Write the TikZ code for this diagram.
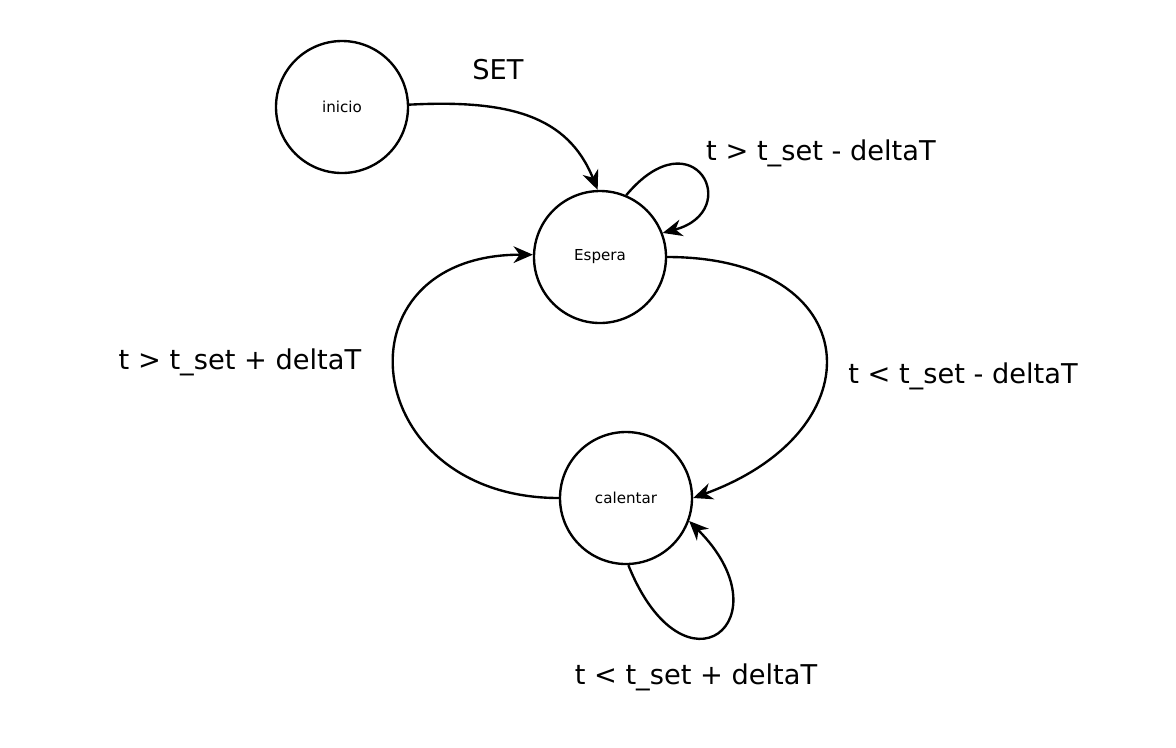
\documentclass[tikz,border=0pt]{standalone}
\usepackage{fontspec}
\setmainfont{DejaVu Sans}
\usetikzlibrary{arrows.meta}

\begin{document}
\begin{tikzpicture}[
    estado/.style={draw, circle, line width=1.35pt, minimum size=2.64cm, inner sep=0pt,
        font=\fontsize{8.6}{10}\selectfont},
    trans/.style={line width=1.35pt, -{Stealth[length=11pt,width=9.5pt,inset=3.5pt]}},
    etiqueta/.style={font=\fontsize{15.5}{18}\selectfont}
]
    \useasboundingbox (0,0) rectangle (23.52,-14.94);
    \node[estado] (inicio) at (6.84,-2.14) {inicio};
    \node[estado] (espera) at (12.00,-5.14) {Espera};
    \node[estado] (calentar) at (12.52,-9.96) {calentar};

    \draw[trans] (inicio.2) .. controls +(3:2) and +(112:1.6) .. (espera.92);
    \draw[trans] (espera.67) .. controls +(50:2.1) and +(15:1.7) .. (espera.21);
    \draw[trans] (espera.east) to[out=0, in=20, looseness=2.1] (calentar.east);
    \draw[trans] (calentar.west) to[out=180, in=180, looseness=2.1] (espera.178);
    \draw[trans] (calentar.-88) .. controls +(-68:3) and +(-45:2.8) .. (calentar.-20);

    \node[etiqueta] (lset) at (9.96,-1.40) {SET};
    \node[etiqueta] (lespera) at (16.42,-3.06) {t > t\_set - deltaT};
    \node[etiqueta] (lbajo) at (19.26,-7.52) {t < t\_set - deltaT};
    \node[etiqueta] (lalto) at (4.80,-7.24) {t > t\_set + deltaT};
    \node[etiqueta] (lcalentar) at (13.92,-13.54) {t < t\_set + deltaT};
\end{tikzpicture}
\end{document}
